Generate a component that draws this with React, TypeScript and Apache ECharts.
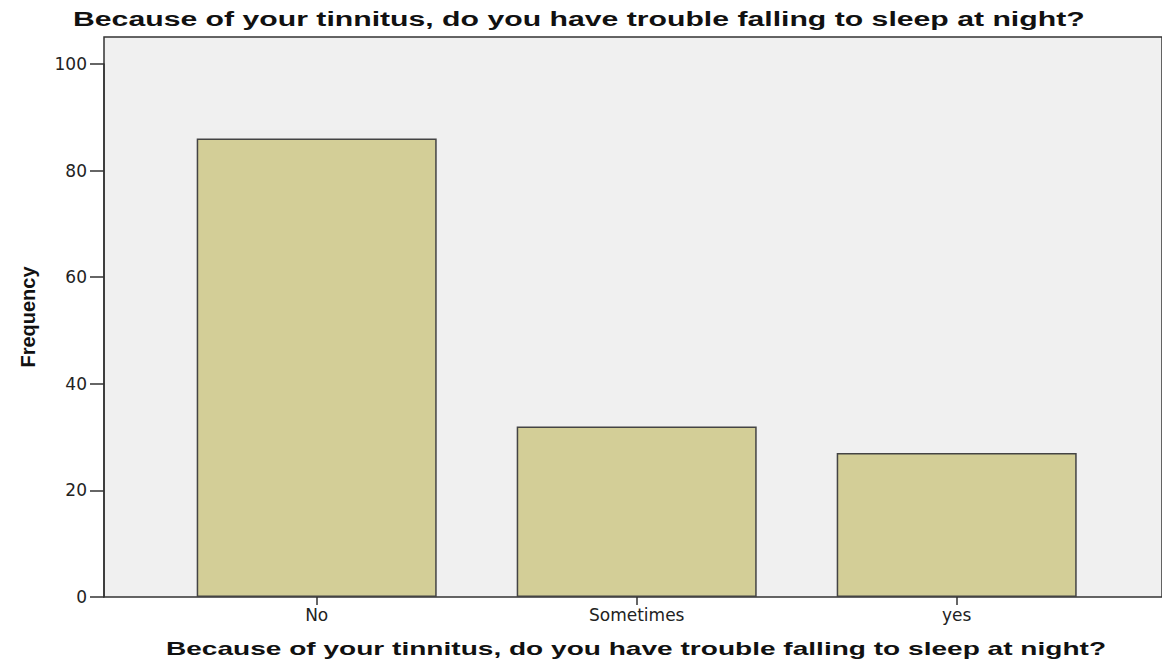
import React, { useEffect, useRef } from "react";
import * as echarts from "echarts";

const categories = ["No", "Sometimes", "yes"];
const frequencies = [86, 32, 27];
const yTicks = [0, 20, 40, 60, 80, 100];
const titleText = "Because of your tinnitus, do you have trouble falling to sleep at night?";
const xAxisTitle = "Because of your tinnitus, do you have trouble falling to sleep at night?";
const yAxisTitle = "Frequency";

export default function App() {
  const ref = useRef<HTMLDivElement>(null);
  useEffect(() => {
    if (!ref.current) return;
    const chart = echarts.init(ref.current, undefined, { renderer: "svg" });
    chart.setOption({
      animation: false,
      backgroundColor: "#ffffff",
      graphic: [
        {
          type: "text",
          x: 73,
          y: 19,
          scaleX: 1.51,
          style: {
            text: titleText,
            fontFamily: "Liberation Sans",
            fontWeight: "bold",
            fontSize: 20,
            fill: "#111",
            textAlign: "left",
            textVerticalAlign: "middle",
          },
        },
        {
          type: "text",
          x: 636,
          y: 648,
          scaleX: 1.51,
          style: {
            text: xAxisTitle,
            fontFamily: "Liberation Sans",
            fontWeight: "bold",
            fontSize: 18.6,
            fill: "#111",
            textAlign: "center",
            textVerticalAlign: "middle",
          },
        },
      ],
      grid: [
        {
          left: 104, right: -7, top: 37, bottom: 65,
          show: true, backgroundColor: "#f0f0f0", borderColor: "#333", borderWidth: 1.5,
        },
        { left: 156.7, right: 45.3, top: 64, bottom: 65 },
      ],
      xAxis: [
        { gridIndex: 0, type: "value", show: false, min: 0, max: 1 },
        {
          gridIndex: 1,
          type: "category",
          data: categories,
          axisLine: { show: false },
          axisTick: { show: true, alignWithLabel: true, length: 8, lineStyle: { color: "#333", width: 1.5 } },
          axisLabel: { margin: 9, fontFamily: "DejaVu Sans", fontSize: 17, color: "#222" },
        },
      ],
      yAxis: [
        {
          gridIndex: 0,
          type: "value",
          min: 0,
          max: 1,
          axisLine: { show: false },
          axisTick: { show: false },
          axisLabel: { show: false },
          splitLine: { show: false },
          name: yAxisTitle,
          nameLocation: "middle",
          nameRotate: 90,
          nameGap: 66,
          nameTextStyle: { fontFamily: "Liberation Sans", fontWeight: "bold", fontSize: 20, color: "#111" },
        },
        {
          gridIndex: 1,
          type: "value",
          min: yTicks[0],
          max: yTicks[yTicks.length - 1],
          interval: 20,
          offset: 52.7,
          splitLine: { show: false },
          axisLine: { show: true, lineStyle: { color: "#333", width: 1.5 } },
          axisTick: { show: true, length: 14, lineStyle: { color: "#333", width: 1.5 } },
          axisLabel: { margin: 17, fontFamily: "DejaVu Sans", fontSize: 17, color: "#222" },
        },
      ],
      series: [
        {
          type: "bar",
          xAxisIndex: 1,
          yAxisIndex: 1,
          data: frequencies,
          barWidth: "75%",
          itemStyle: { color: "#d3ce97", borderColor: "#444", borderWidth: 1.5 },
        },
      ],
    });
    return () => chart.dispose();
  }, []);
  return (
    <div
      ref={ref}
      style={{ position: "absolute", left: 0, top: 0, width: 1162, height: 662 }}
    />
  );
}
